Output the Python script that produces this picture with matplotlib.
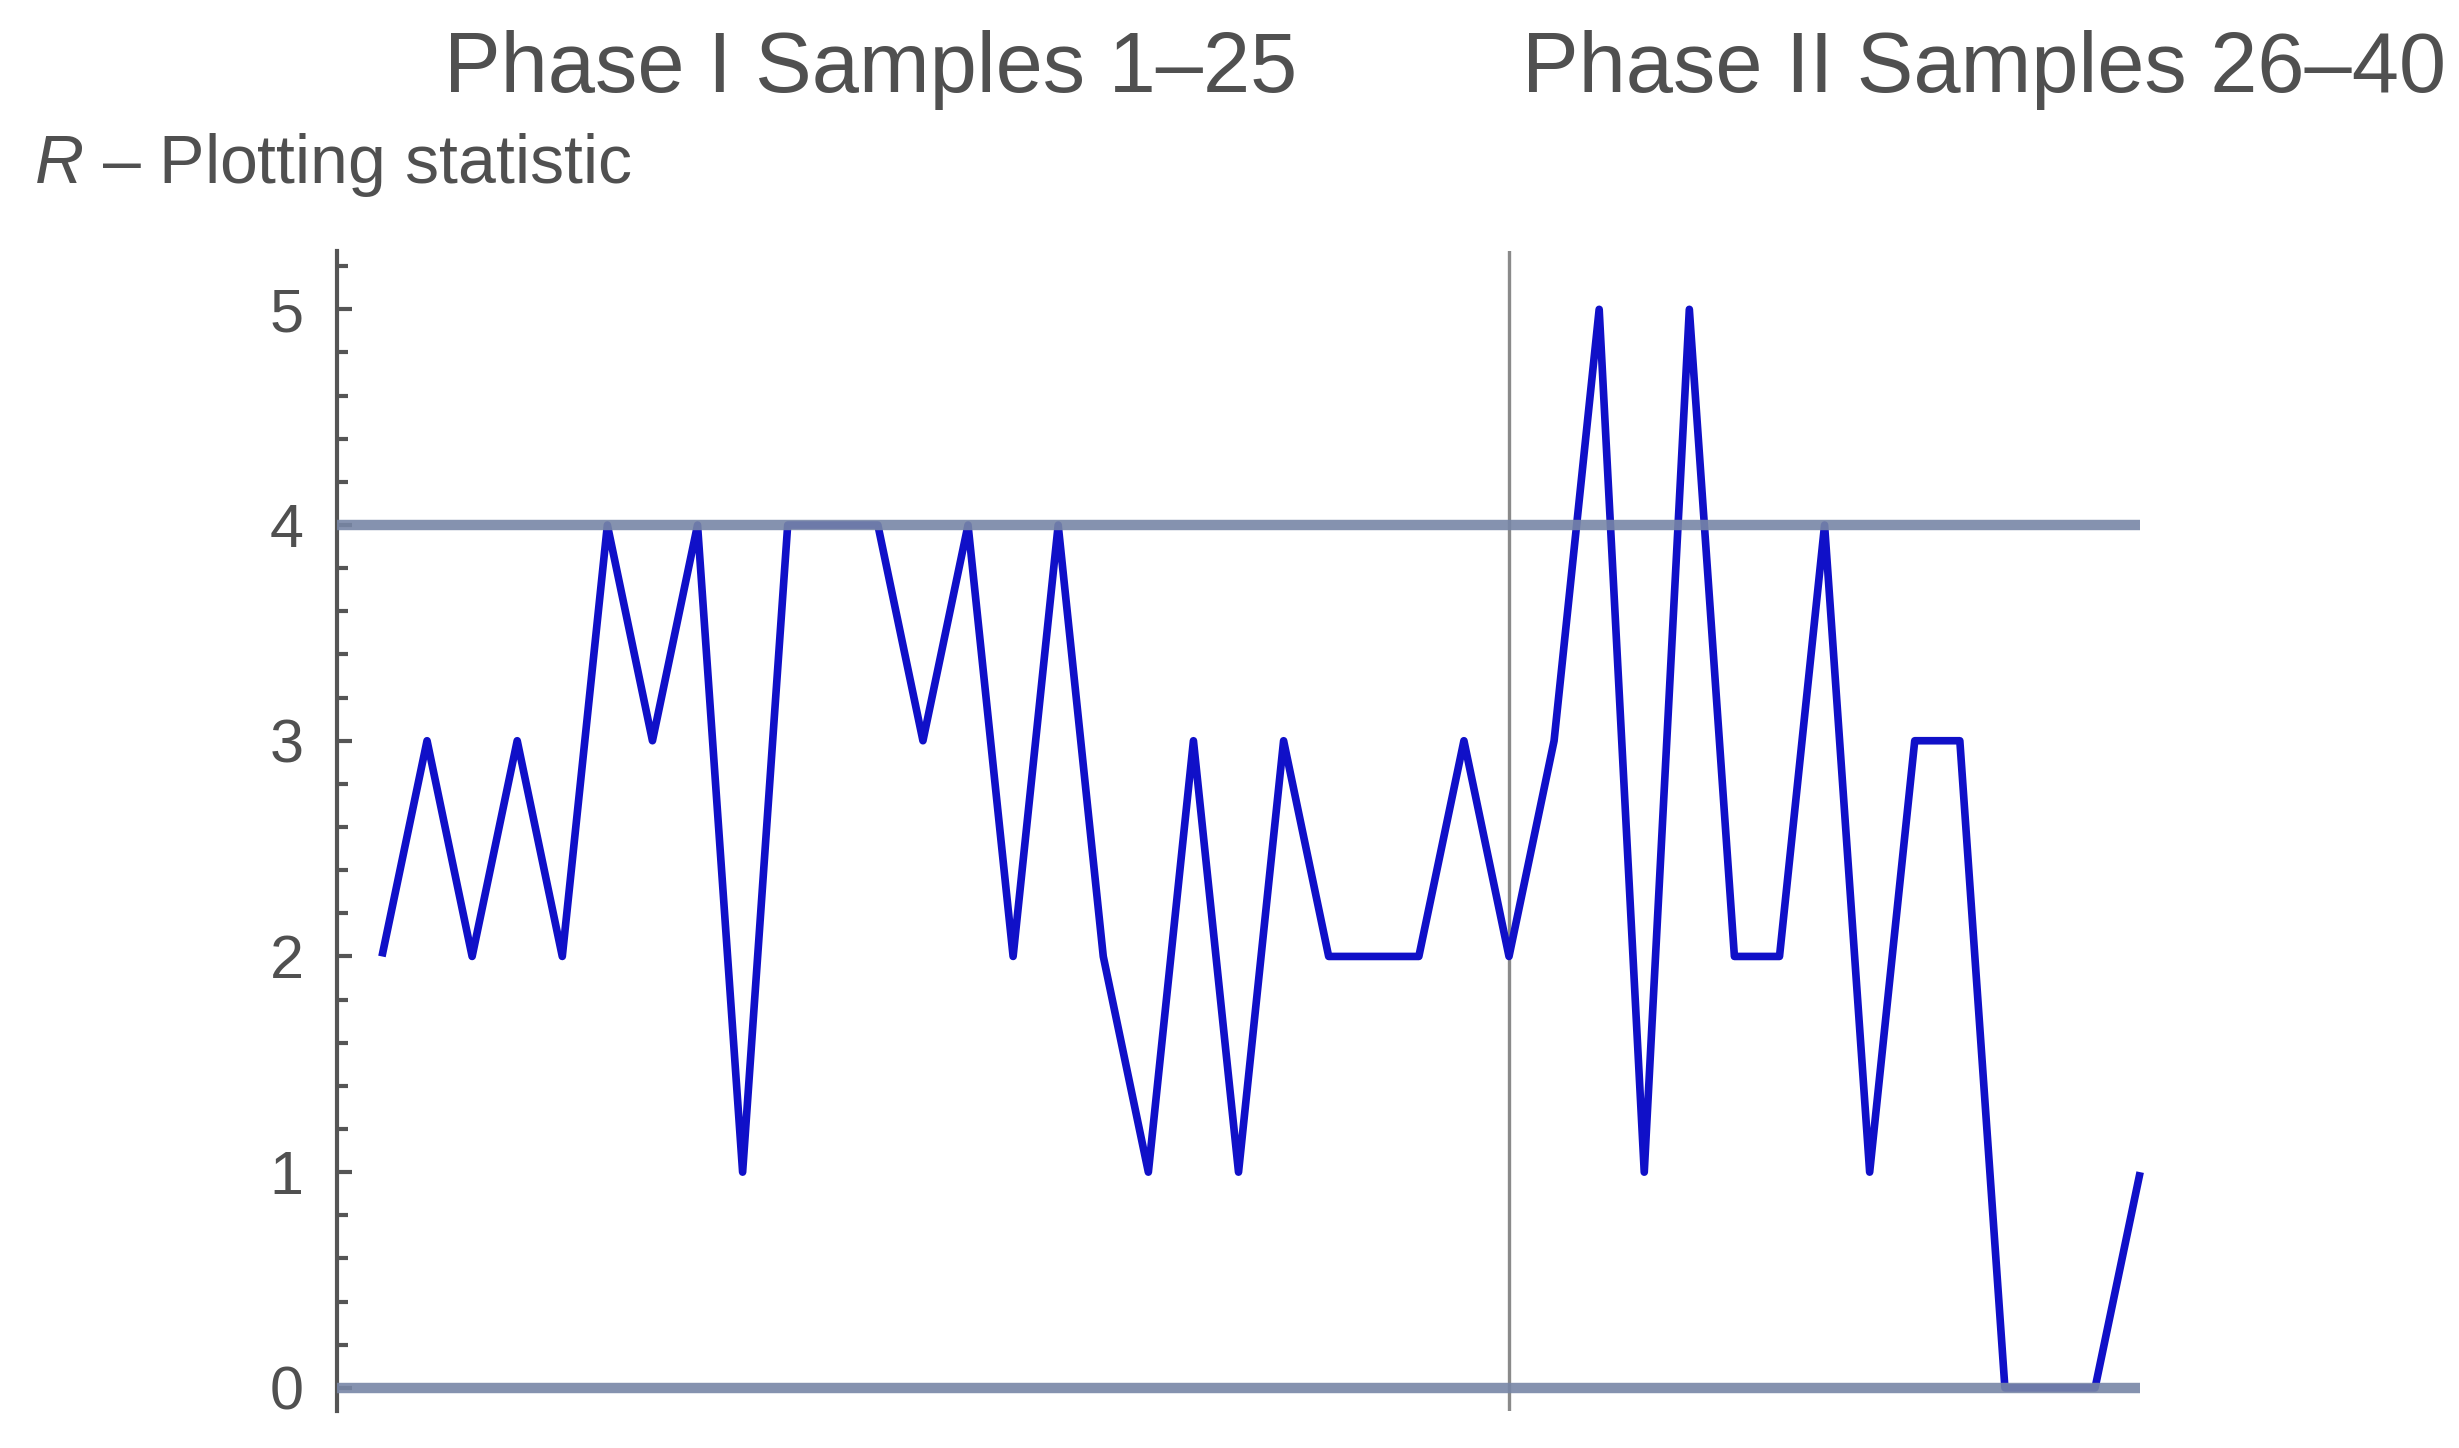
import matplotlib
matplotlib.use('Agg')
import matplotlib.pyplot as plt
import numpy as np
from matplotlib.ticker import MultipleLocator

# R chart values, samples 1-40
samples = list(range(1, 41))
r_values = [2, 3, 2, 3, 2, 4, 3, 4, 1, 4,
            4, 4, 3, 4, 2, 4, 2, 1, 3, 1,
            3, 2, 2, 2, 3, 2, 3, 5, 1, 5,
            2, 2, 4, 1, 3, 3, 0, 0, 0, 1]
ucl = 4
lcl = 0
phase_split = 26
y_ticks = [0, 1, 2, 3, 4, 5]
phase_titles = ['Phase I Samples 1\u201325', 'Phase II Samples 26\u201340']

plt.rcParams['font.family'] = ['Liberation Sans', 'DejaVu Sans']
plt.rcParams['mathtext.fontset'] = 'custom'
plt.rcParams['mathtext.it'] = 'Liberation Sans:italic'
plt.rcParams['mathtext.rm'] = 'Liberation Sans'

txt = '#505050'

fig = plt.figure(figsize=(24.59, 14.48), dpi=100)
ax = fig.add_axes([0.137, 0.0256, 0.748, 0.801])

ax.plot(samples, r_values, color='#1010c8', lw=5.5, solid_joinstyle='round',
        solid_capstyle='butt', zorder=2)
ax.hlines([ucl, lcl], 0, samples[-1], color='#7886a6', lw=7.5, alpha=0.9, zorder=3)
ax.axvline(phase_split, color='#8a8a8a', lw=2.4, zorder=1)

ax.set_xlim(0, 40.8)
ax.set_ylim(-0.107, 5.27)
for s in ['top', 'right', 'bottom']:
    ax.spines[s].set_visible(False)
ax.spines['left'].set_color('#555555')
ax.spines['left'].set_linewidth(3)
ax.set_xticks([])
ax.set_yticks(y_ticks)
ax.yaxis.set_minor_locator(MultipleLocator(0.2))
ax.tick_params(axis='y', which='major', direction='in', length=11, width=3,
               color='#555555', labelsize=44, labelcolor=txt, pad=24)
ax.tick_params(axis='y', which='minor', direction='in', length=8, width=3,
               color='#555555')

fig.text(0.354, 0.952, phase_titles[0], ha='center', va='center', fontsize=61, color=txt)
fig.text(0.807, 0.952, phase_titles[1], ha='center', va='center', fontsize=61, color=txt)
fig.text(0.014, 0.886, '$R$ \u2013 Plotting statistic',
         ha='left', va='center', fontsize=49, color=txt)

plt.savefig('out.png', dpi=100)
